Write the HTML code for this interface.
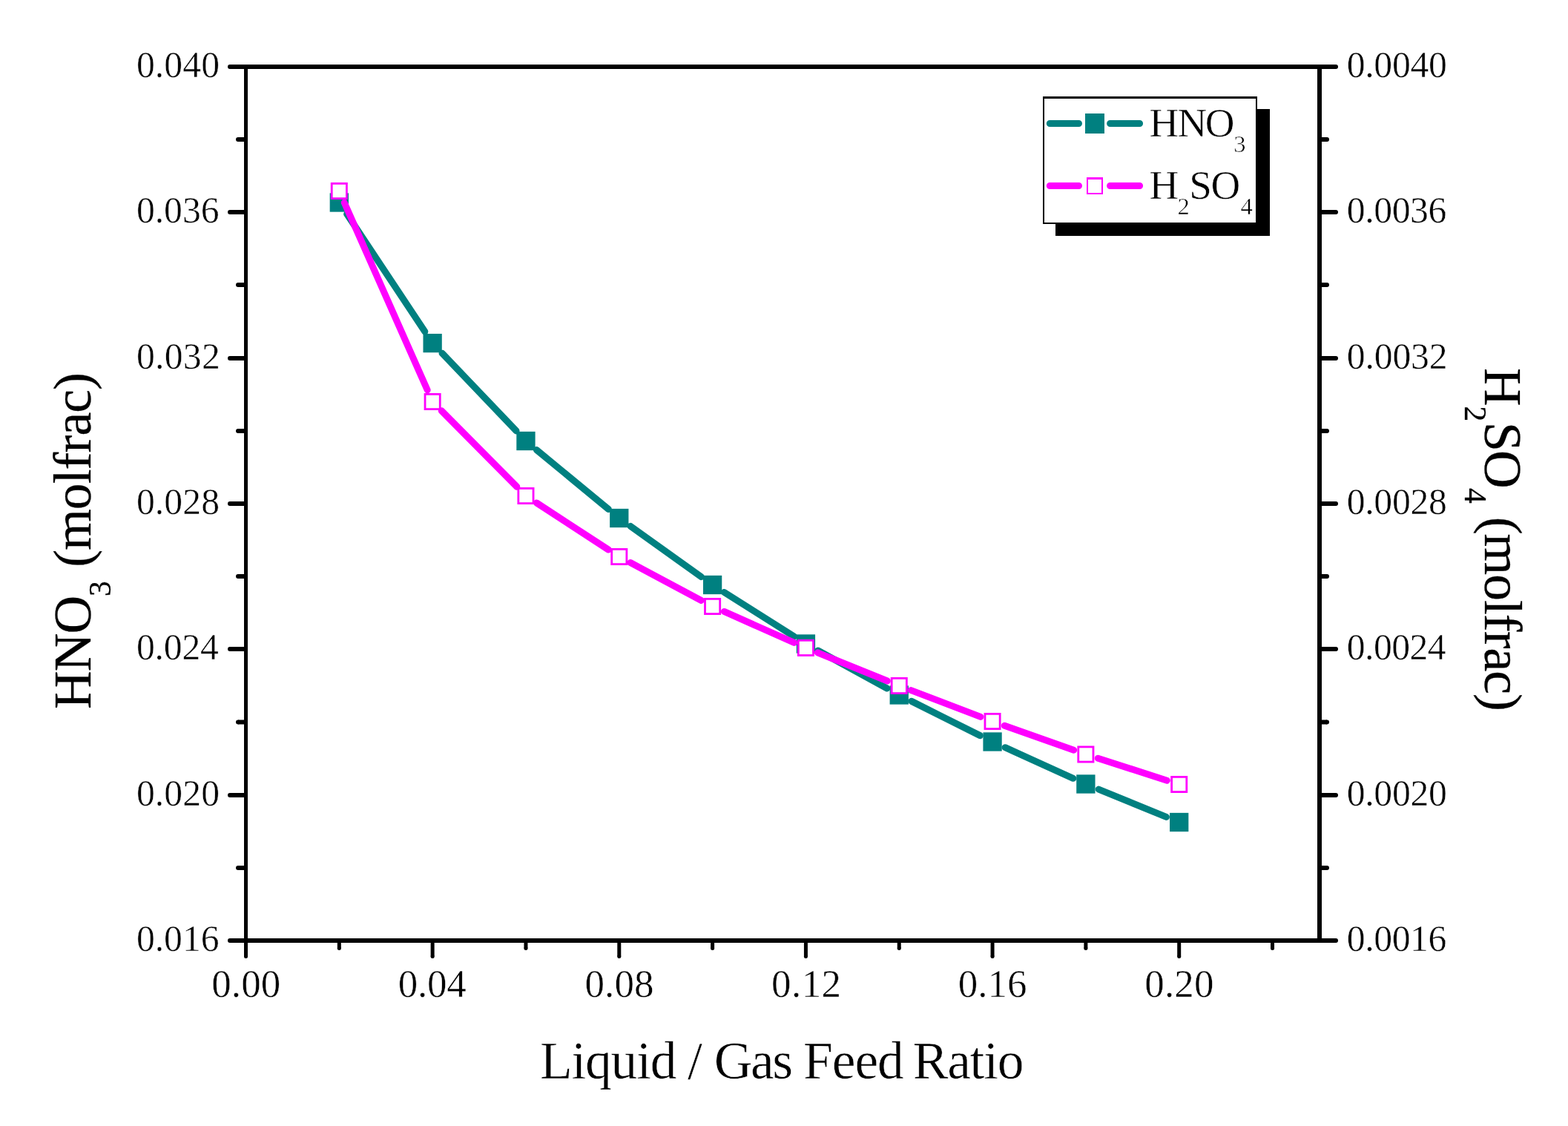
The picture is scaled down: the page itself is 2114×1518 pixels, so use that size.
<!DOCTYPE html>
<html><head><meta charset="utf-8"><title>HNO3 / H2SO4 vs Liquid / Gas Feed Ratio</title>
<style>html,body{margin:0;padding:0;background:#fff;overflow:hidden}svg{display:block}text{font-family:"Liberation Serif","Times New Roman",serif;fill:#000;stroke:#fff;stroke-width:0.5px}.r text{stroke:#000;stroke-width:0.3px}</style>
</head><body>
<svg width="2114" height="1518" viewBox="0 0 2114 1518">
<rect x="0" y="0" width="2114" height="1518" fill="#fff"/>
<g fill="#000">
<rect x="310" y="87" width="1491" height="6"/>
<rect x="310" y="1265" width="1491" height="6"/>
<rect x="329" y="87" width="5" height="1202.5"/>
<rect x="1776" y="87" width="6" height="1184"/>
</g>
<g fill="#000"><circle cx="310" cy="90" r="3"/><circle cx="1801" cy="90" r="3"/><rect x="321" y="185" width="8" height="6"/><rect x="1782" y="185" width="7" height="6"/><circle cx="321" cy="188" r="3"/><circle cx="1789" cy="188" r="3"/><rect x="310" y="283" width="19" height="6"/><rect x="1782" y="283" width="19" height="6"/><circle cx="310" cy="286" r="3"/><circle cx="1801" cy="286" r="3"/><rect x="321" y="381" width="8" height="6"/><rect x="1782" y="381" width="7" height="6"/><circle cx="321" cy="384" r="3"/><circle cx="1789" cy="384" r="3"/><rect x="310" y="480" width="19" height="6"/><rect x="1782" y="480" width="19" height="6"/><circle cx="310" cy="483" r="3"/><circle cx="1801" cy="483" r="3"/><rect x="321" y="578" width="8" height="6"/><rect x="1782" y="578" width="7" height="6"/><circle cx="321" cy="581" r="3"/><circle cx="1789" cy="581" r="3"/><rect x="310" y="676" width="19" height="6"/><rect x="1782" y="676" width="19" height="6"/><circle cx="310" cy="679" r="3"/><circle cx="1801" cy="679" r="3"/><rect x="321" y="774" width="8" height="6"/><rect x="1782" y="774" width="7" height="6"/><circle cx="321" cy="777" r="3"/><circle cx="1789" cy="777" r="3"/><rect x="310" y="872" width="19" height="6"/><rect x="1782" y="872" width="19" height="6"/><circle cx="310" cy="875" r="3"/><circle cx="1801" cy="875" r="3"/><rect x="321" y="970.5" width="8" height="6"/><rect x="1782" y="970.5" width="7" height="6"/><circle cx="321" cy="973.5" r="3"/><circle cx="1789" cy="973.5" r="3"/><rect x="310" y="1069" width="19" height="6"/><rect x="1782" y="1069" width="19" height="6"/><circle cx="310" cy="1072" r="3"/><circle cx="1801" cy="1072" r="3"/><rect x="321" y="1167" width="8" height="6"/><rect x="1782" y="1167" width="7" height="6"/><circle cx="321" cy="1170" r="3"/><circle cx="1789" cy="1170" r="3"/><circle cx="310" cy="1268" r="3"/><circle cx="1801" cy="1268" r="3"/><circle cx="331.5" cy="1289.5" r="2.5"/><rect x="454.82" y="1271" width="5" height="7.5"/><circle cx="457.32" cy="1278.5" r="2.5"/><rect x="580.64" y="1271" width="5" height="18.5"/><circle cx="583.14" cy="1289.5" r="2.5"/><rect x="706.46" y="1271" width="5" height="7.5"/><circle cx="708.96" cy="1278.5" r="2.5"/><rect x="832.28" y="1271" width="5" height="18.5"/><circle cx="834.78" cy="1289.5" r="2.5"/><rect x="958.1" y="1271" width="5" height="7.5"/><circle cx="960.6" cy="1278.5" r="2.5"/><rect x="1083.92" y="1271" width="5" height="18.5"/><circle cx="1086.42" cy="1289.5" r="2.5"/><rect x="1209.74" y="1271" width="5" height="7.5"/><circle cx="1212.24" cy="1278.5" r="2.5"/><rect x="1335.56" y="1271" width="5" height="18.5"/><circle cx="1338.06" cy="1289.5" r="2.5"/><rect x="1461.38" y="1271" width="5" height="7.5"/><circle cx="1463.88" cy="1278.5" r="2.5"/><rect x="1587.2" y="1271" width="5" height="18.5"/><circle cx="1589.7" cy="1289.5" r="2.5"/><rect x="1713.02" y="1271" width="5" height="7.5"/><circle cx="1715.52" cy="1278.5" r="2.5"/></g>
<text font-size="49.7" y="103.6" x="183.91 208.82 221.31 246.23 271.14">0.040</text>
<text font-size="49.7" y="103.6" x="1815.71 1840.24 1852.35 1876.88 1901.41 1925.94">0.0040</text>
<text font-size="49.7" y="299.6" x="183.91 208.72 221.11 245.92 270.73">0.036</text>
<text font-size="49.7" y="299.6" x="1815.71 1840.16 1852.18 1876.63 1901.08 1925.53">0.0036</text>
<text font-size="49.7" y="496.6" x="183.91 209.03 221.74 246.86 271.99">0.032</text>
<text font-size="49.7" y="496.6" x="1815.71 1840.41 1852.69 1877.39 1902.09 1926.79">0.0032</text>
<text font-size="49.7" y="692.6" x="183.91 208.82 221.31 246.23 271.14">0.028</text>
<text font-size="49.7" y="692.6" x="1815.71 1840.24 1852.35 1876.88 1901.41 1925.94">0.0028</text>
<text font-size="49.7" y="888.6" x="183.91 208.54 220.75 245.39 270.03">0.024</text>
<text font-size="49.7" y="888.6" x="1815.71 1840.02 1851.9 1876.21 1900.52 1924.83">0.0024</text>
<text font-size="49.7" y="1085.6" x="183.91 208.82 221.31 246.23 271.14">0.020</text>
<text font-size="49.7" y="1085.6" x="1815.71 1840.24 1852.35 1876.88 1901.41 1925.94">0.0020</text>
<text font-size="49.7" y="1281.6" x="183.91 208.72 221.11 245.92 270.73">0.016</text>
<text font-size="49.7" y="1281.6" x="1815.71 1840.16 1852.18 1876.63 1901.08 1925.53">0.0016</text>
<text font-size="53" y="1344.2" x="285.13 311.76 325.14 351.77">0.00</text>
<text font-size="53" y="1344.2" x="536.77 563 575.99 602.22">0.04</text>
<text font-size="53" y="1344.2" x="788.41 815.04 828.42 855.05">0.08</text>
<text font-size="53" y="1344.2" x="1040.05 1066.98 1080.66 1107.59">0.12</text>
<text font-size="53" y="1344.2" x="1291.69 1318.17 1331.41 1357.89">0.16</text>
<text font-size="53" y="1344.2" x="1543.33 1569.96 1583.34 1609.97">0.20</text>
<text font-size="71.5" y="1454"><tspan x="727.94 770.41 789.07 823.62 858.16 876.82">Liquid</tspan><tspan x="927.1">/</tspan><tspan x="962.67 1011.91 1041.26">Gas</tspan><tspan x="1082.94 1121.69 1152.41 1183.12">Feed</tspan><tspan x="1230.84 1277.2 1307.6 1326.14 1344.67">Ratio</tspan></text>
<g class="r" transform="translate(122 954) rotate(-90)">
<text font-size="71.5" y="0" x="-2.06 48.77 99.6">HNO</text>
<text font-size="41.5" y="27" x="150.01">3</text>
<text font-size="71.5" y="0" x="189.26 212.15 266.84 301.67 320.62 343.51 366.4 397.22 428.03">(molfrac)</text>
</g>
<g class="r" transform="translate(2002 498) rotate(90)">
<text font-size="71.5" y="0" x="-2.06">H</text>
<text font-size="41.5" y="27.5" x="49.48">2</text>
<text font-size="71.5" y="0" x="71.12 109">SO</text>
<text font-size="41.5" y="27.5" x="160.09">4</text>
<text font-size="71.5" y="0" x="198.76 221.57 276.19 310.95 329.82 352.64 375.45 406.19 436.93">(molfrac)</text>
</g>
<path d="M467.66 288.58L572.8 447.02M596.05 476.13L696.05 580.97M723.37 606.41L820.37 686.59M849.99 709.38L945.39 777.62M976.41 798.49L1070.61 858.01M1102.82 876.99L1195.84 928.01M1228.96 945.37L1321.34 991.63M1355.09 1007.72L1446.85 1049.28M1481.19 1064.08L1572.39 1101.42" fill="none" stroke="#008080" stroke-width="9" stroke-linecap="round"/>
<rect x="444.67" y="260.35" width="25.3" height="25.3" fill="#008080"/>
<rect x="570.49" y="449.95" width="25.3" height="25.3" fill="#008080"/>
<rect x="696.31" y="581.85" width="25.3" height="25.3" fill="#008080"/>
<rect x="822.13" y="685.85" width="25.3" height="25.3" fill="#008080"/>
<rect x="947.95" y="775.85" width="25.3" height="25.3" fill="#008080"/>
<rect x="1073.77" y="855.35" width="25.3" height="25.3" fill="#008080"/>
<rect x="1199.59" y="924.35" width="25.3" height="25.3" fill="#008080"/>
<rect x="1325.41" y="987.35" width="25.3" height="25.3" fill="#008080"/>
<rect x="1451.23" y="1044.35" width="25.3" height="25.3" fill="#008080"/>
<rect x="1577.05" y="1095.85" width="25.3" height="25.3" fill="#008080"/>
<path d="M464.29 273.23L576.17 525.77M595.25 553.72L696.85 656.28M723.37 677.89L820.37 741.11M849.96 758.58L945.42 809.42M976.32 824.48L1070.7 866.42M1102.36 879.87L1196.3 918.03M1228.31 930.63L1321.99 966.37M1354.28 978.24L1447.66 1011.26M1480.25 1022.27L1573.33 1052.23" fill="none" stroke="#FF00FF" stroke-width="9" stroke-linecap="round"/>
<rect x="447.22" y="247.4" width="20.2" height="20.2" fill="#fff" stroke="#FF00FF" stroke-width="2.8"/>
<rect x="573.04" y="531.4" width="20.2" height="20.2" fill="#fff" stroke="#FF00FF" stroke-width="2.8"/>
<rect x="698.86" y="658.4" width="20.2" height="20.2" fill="#fff" stroke="#FF00FF" stroke-width="2.8"/>
<rect x="824.68" y="740.4" width="20.2" height="20.2" fill="#fff" stroke="#FF00FF" stroke-width="2.8"/>
<rect x="950.5" y="807.4" width="20.2" height="20.2" fill="#fff" stroke="#FF00FF" stroke-width="2.8"/>
<rect x="1076.32" y="863.3" width="20.2" height="20.2" fill="#fff" stroke="#FF00FF" stroke-width="2.8"/>
<rect x="1202.14" y="914.4" width="20.2" height="20.2" fill="#fff" stroke="#FF00FF" stroke-width="2.8"/>
<rect x="1327.96" y="962.4" width="20.2" height="20.2" fill="#fff" stroke="#FF00FF" stroke-width="2.8"/>
<rect x="1453.78" y="1006.9" width="20.2" height="20.2" fill="#fff" stroke="#FF00FF" stroke-width="2.8"/>
<rect x="1579.6" y="1047.4" width="20.2" height="20.2" fill="#fff" stroke="#FF00FF" stroke-width="2.8"/>
<rect x="1423" y="147" width="289" height="171" fill="#000"/>
<rect x="1406" y="130" width="289" height="172" fill="#000"/>
<rect x="1408" y="133" width="285" height="167" fill="#fff"/>
<path d="M1415.3 166.5H1454.5M1496.6 166.5H1536.6" stroke="#008080" stroke-width="9" stroke-linecap="round"/>
<rect x="1463" y="153" width="26" height="27" fill="#008080"/>
<path d="M1415.3 250.5H1454.5M1496.6 250.5H1536.6" stroke="#FF00FF" stroke-width="9" stroke-linecap="round"/>
<path d="M1465 239h22v23h-22zM1467 242v18h18v-18z" fill="#FF00FF" fill-rule="evenodd"/>
<text font-size="55" y="184" x="1549.42 1587.42 1624.74">HNO</text>
<text font-size="32.5" y="204.6" x="1663.34">3</text>
<text font-size="55" y="268" x="1549.42">H</text>
<text font-size="32.5" y="289" x="1587.57">2</text>
<text font-size="55" y="268" x="1603.22 1632.54">SO</text>
<text font-size="32.5" y="289" x="1672.47">4</text>
</svg></body></html>
